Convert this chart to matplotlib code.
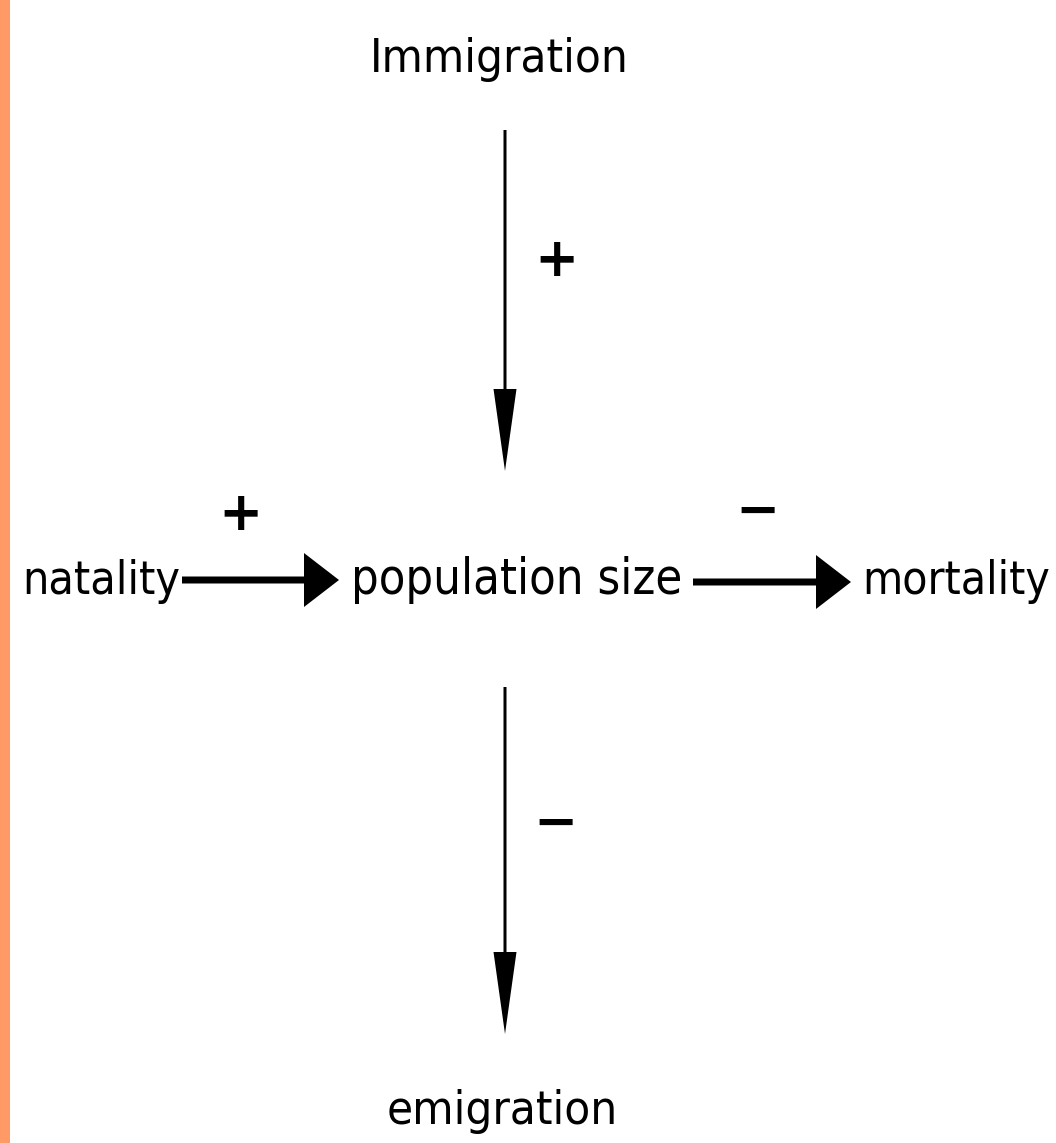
import matplotlib.pyplot as plt
from matplotlib.patches import Rectangle

# =========================
# DATA
# =========================
center_label = "population size"
inflow_labels = ["Immigration", "natality"]
outflow_labels = ["emigration", "mortality"]
signs = {"Immigration": "+", "natality": "+", "emigration": "\u2212", "mortality": "\u2212"}

# =========================
# LAYOUT (pixel coords, y down)
# =========================
W, H = 1056, 1143
font = ['DejaVu Sans']

fig = plt.figure(figsize=(W / 100, H / 100), dpi=100)
ax = fig.add_axes([0, 0, 1, 1])
ax.set_xlim(0, W)
ax.set_ylim(H, 0)
ax.axis('off')

# orange strip on the left
ax.add_patch(Rectangle((0, 0), 10, H, color='#FF9966', lw=0))

# label: (x centre, baseline, target width in px)
label_pos = {
    "Immigration": (499, 72, 258),
    "natality": (101, 594, 158),
    center_label: (517, 594, 331),
    "mortality": (956, 594, 188),
    "emigration": (502, 1124, 231),
}
renderer = fig.canvas.get_renderer()
for name, (x, y, w) in label_pos.items():
    t = ax.text(x, y, name, ha='center', va='baseline', fontsize=40,
                family=font, stretch='condensed', color='black')
    bw = t.get_window_extent(renderer).width
    t.set_fontsize(40 * w / bw)

# arrows
def varrow(x, y0, y1):
    ax.arrow(x, y0, 0, y1 - y0, width=3, head_width=23, head_length=82,
             length_includes_head=True, color='black', lw=0)

def harrow(y, x0, x1):
    ax.arrow(x0, y, x1 - x0, 0, width=7, head_width=54, head_length=35,
             length_includes_head=True, color='black', lw=0)

varrow(505, 130, 471)   # Immigration -> population
varrow(505, 687, 1034)  # population -> emigration
harrow(580, 182, 339)   # natality -> population
harrow(582, 693, 851)   # population -> mortality

# signs
sign_pos = {
    "Immigration": (557, 256),
    "natality": (241, 510),
    "mortality": (758, 506),
    "emigration": (556, 818),
}
for name, (x, y) in sign_pos.items():
    ax.text(x, y, signs[name], ha='center', va='center_baseline',
            fontsize=38, family=font, weight='bold', color='black')

fig.savefig('out.png', dpi=100)
